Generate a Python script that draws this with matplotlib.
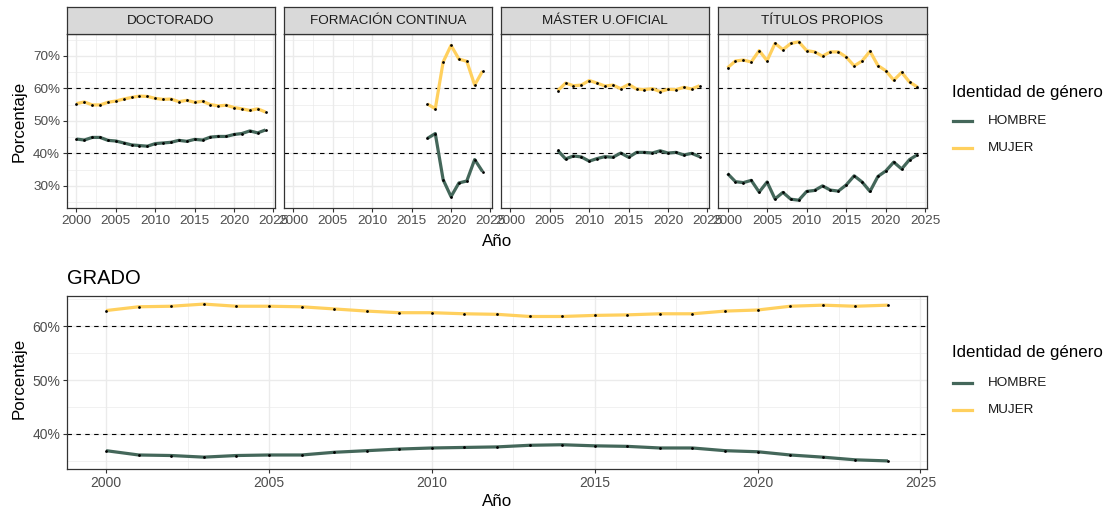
#!/usr/bin/env python3
"""Porcentaje por identidad de género y tipo de estudio."""

import matplotlib
matplotlib.use("Agg")
import matplotlib.pyplot as plt
from matplotlib.lines import Line2D
from matplotlib.ticker import FuncFormatter, FixedLocator

plt.rcParams["font.family"] = ["Liberation Sans", "DejaVu Sans"]

W, H = 1110, 515

# ---- data -----------------------------------------------------------------
years_all = list(range(2000, 2025))

doc_mujer = [55.3, 55.8, 54.9, 54.9, 55.7, 56.1, 56.7, 57.2, 57.6, 57.5, 56.9, 56.6, 56.7,
             55.9, 56.3, 55.7, 56.0, 55.0, 54.6, 54.8, 54.1, 53.7, 53.2, 53.7, 52.7]
doc_hombre = [44.4, 44.1, 44.9, 44.9, 44.0, 43.8, 43.2, 42.6, 42.4, 42.2, 43.0, 43.2, 43.4,
              44.0, 43.7, 44.3, 44.1, 45.0, 45.2, 45.2, 45.8, 46.1, 46.9, 46.3, 47.2]

fc_years = list(range(2017, 2025))
fc_mujer = [55.2, 53.7, 68.1, 73.2, 69.0, 68.3, 61.0, 65.3]
fc_hombre = [44.6, 46.1, 31.9, 26.7, 30.9, 31.5, 38.1, 34.4]

mu_years = list(range(2006, 2025))
mu_mujer = [59.3, 61.6, 60.8, 61.0, 62.4, 61.6, 60.7, 61.0, 59.9, 61.2, 59.8, 59.6, 59.9,
            59.0, 59.7, 59.6, 60.3, 59.8, 60.8]
mu_hombre = [40.9, 38.3, 39.2, 38.9, 37.6, 38.4, 39.0, 38.8, 40.1, 38.8, 40.3, 40.3, 40.1,
             40.8, 40.1, 40.3, 39.5, 40.0, 39.0]

tp_mujer = [66.3, 68.4, 68.7, 68.1, 71.6, 68.5, 73.8, 71.9, 73.8, 74.3, 71.6, 71.2, 69.9,
            71.2, 71.2, 69.6, 66.9, 68.4, 71.4, 67.0, 65.4, 62.5, 64.9, 61.9, 60.4]
tp_hombre = [33.8, 31.3, 31.0, 31.7, 28.1, 31.2, 26.0, 28.0, 25.9, 25.6, 28.3, 28.6, 30.0,
             28.7, 28.4, 30.3, 33.1, 31.2, 28.3, 32.9, 34.6, 37.3, 35.2, 38.1, 39.6]

grado_mujer = [62.9, 63.6, 63.7, 64.1, 63.7, 63.7, 63.6, 63.2, 62.8, 62.5, 62.5, 62.3, 62.2,
               61.8, 61.8, 62.0, 62.1, 62.3, 62.3, 62.8, 63.0, 63.7, 63.9, 63.7, 63.9]
grado_hombre = [36.9, 36.1, 36.0, 35.7, 36.0, 36.1, 36.1, 36.6, 36.9, 37.2, 37.4, 37.5, 37.6,
                37.9, 38.0, 37.8, 37.7, 37.4, 37.4, 36.9, 36.7, 36.1, 35.7, 35.2, 35.0]

facets = [
    ("DOCTORADO", years_all, doc_hombre, doc_mujer),
    ("FORMACIÓN CONTINUA", fc_years, fc_hombre, fc_mujer),
    ("MÁSTER U.OFICIAL", mu_years, mu_hombre, mu_mujer),
    ("TÍTULOS PROPIOS", years_all, tp_hombre, tp_mujer),
]

x_ticks = [2000, 2005, 2010, 2015, 2020, 2025]
top_y_ticks = [30, 40, 50, 60, 70]
grado_y_ticks = [40, 50, 60]
ref_lines = [40, 60]
legend_labels = ["HOMBRE", "MUJER"]

# ---- style ----------------------------------------------------------------
C_HOMBRE = "#44675A"
C_MUJER = "#FFD05E"
GRID = "#EBEBEB"
BORDER = "#333333"
TICK_TXT = "#4D4D4D"
TITLE_SIZE = 12.2


def px_axes(fig, x0, y0, x1, y1):
    return fig.add_axes([x0 / W, 1 - y1 / H, (x1 - x0) / W, (y1 - y0) / H])


def fy(y):
    return 1 - y / H


def style_panel(ax, xlim, ylim, yticks, show_y, tick_size):
    ax.set_xlim(*xlim)
    ax.set_ylim(*ylim)
    ax.set_xticks(x_ticks)
    ax.xaxis.set_minor_locator(FixedLocator([t + 2.5 for t in [1995] + x_ticks]))
    ax.set_yticks(yticks)
    ax.yaxis.set_minor_locator(FixedLocator([t - 5 for t in yticks] + [yticks[-1] + 5]))
    ax.grid(True, which="major", color=GRID, lw=1.0, zorder=0)
    ax.grid(True, which="minor", color=GRID, lw=0.5, zorder=0)
    ax.set_axisbelow(True)
    for s in ax.spines.values():
        s.set_color(BORDER)
        s.set_linewidth(0.9)
    ax.tick_params(which="major", length=3, width=0.8, color=BORDER,
                   labelsize=tick_size, labelcolor=TICK_TXT, pad=2)
    ax.tick_params(which="minor", length=0)
    ax.yaxis.set_major_formatter(FuncFormatter(lambda v, _: f"{v:.0f}%"))
    if not show_y:
        ax.tick_params(axis="y", which="major", labelleft=False, length=0)


def draw_series(ax, yrs, hombre, mujer):
    for yv in ref_lines:
        ax.axhline(yv, color="black", lw=0.8, ls=(0, (4, 4)), zorder=1)
    ax.plot(yrs, hombre, color=C_HOMBRE, lw=2.3, zorder=2, solid_capstyle="butt")
    ax.plot(yrs, mujer, color=C_MUJER, lw=2.3, zorder=2, solid_capstyle="butt")
    ax.plot(yrs, hombre, "o", color="black", ms=2.0, mew=0, zorder=3)
    ax.plot(yrs, mujer, "o", color="black", ms=2.0, mew=0, zorder=3)


def add_legend(fig, y_title, y_items):
    fig.text(952 / W, fy(y_title), "Identidad de género", ha="left", va="center",
             fontsize=TITLE_SIZE)
    for label, color, y in zip(legend_labels, [C_HOMBRE, C_MUJER], y_items):
        fig.add_artist(Line2D([953 / W, 972 / W], [fy(y), fy(y)], color=color, lw=2.3,
                              transform=fig.transFigure))
        fig.text(988 / W, fy(y), label, ha="left", va="center", fontsize=9.7,
                 color="#1A1A1A")


fig = plt.figure(figsize=(W / 100, H / 100), dpi=100)

xlim = (1998.8, 2025.2)
panels_x = [(67, 275), (284, 492), (501, 709), (718, 927)]
for i, (name, yrs, hombre, mujer) in enumerate(facets):
    x0, x1 = panels_x[i]
    ax = px_axes(fig, x0, 34, x1, 208)
    style_panel(ax, xlim, (23.2, 76.7), top_y_ticks, show_y=(i == 0), tick_size=9.7)
    draw_series(ax, yrs, hombre, mujer)
    strip = px_axes(fig, x0, 7, x1, 34)
    strip.set_facecolor("#D9D9D9")
    strip.set_xticks([])
    strip.set_yticks([])
    for s in strip.spines.values():
        s.set_color(BORDER)
        s.set_linewidth(0.9)
    strip.text(0.5, 0.5, name, ha="center", va="center", fontsize=9.7, color="#1A1A1A",
               transform=strip.transAxes)

fig.text(497 / W, fy(242), "Año", ha="center", va="center", fontsize=TITLE_SIZE)
fig.text(19 / W, fy(121), "Porcentaje", ha="center", va="center", rotation=90,
         fontsize=TITLE_SIZE)
add_legend(fig, 93, [121, 148])

ax = px_axes(fig, 67, 296, 927, 469)
style_panel(ax, xlim, (33.5, 65.6), grado_y_ticks, show_y=True, tick_size=10.0)
draw_series(ax, years_all, grado_hombre, grado_mujer)
fig.text(67 / W, fy(278), "GRADO", ha="left", va="center", fontsize=14.5)
fig.text(497 / W, fy(502), "Año", ha="center", va="center", fontsize=TITLE_SIZE)
fig.text(19 / W, fy(378), "Porcentaje", ha="center", va="center", rotation=90,
         fontsize=TITLE_SIZE)
add_legend(fig, 353, [383, 410])

fig.savefig("out.png", dpi=100)
plt.close(fig)
